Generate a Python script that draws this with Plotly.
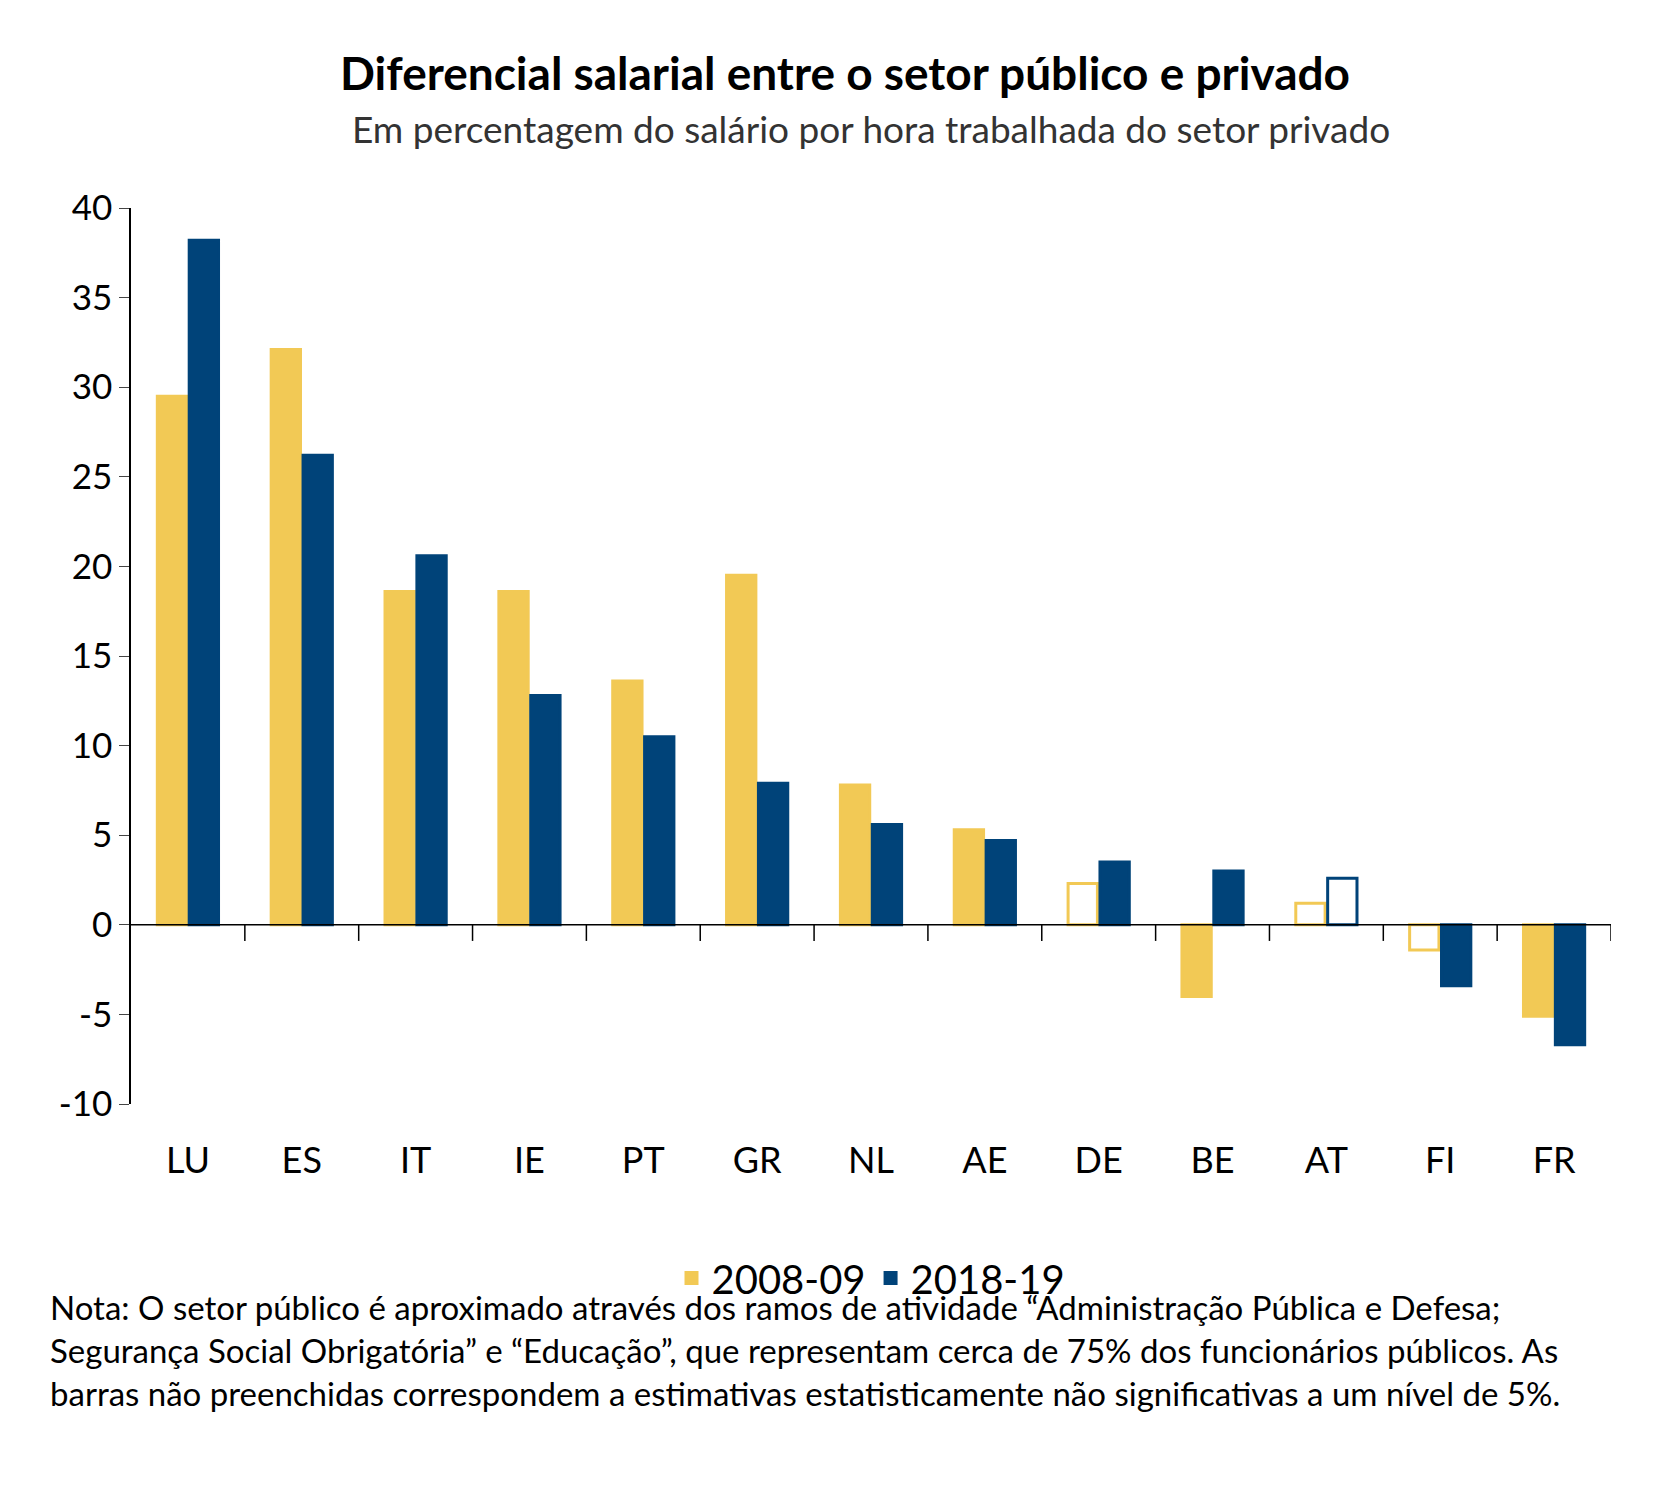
import plotly.graph_objects as go

cats = ["LU","ES","IT","IE","PT","GR","NL","AE","DE","BE","AT","FI","FR"]
v2008 = [29.5,32.1,18.6,18.6,13.6,19.5,7.8,5.3,2.3,-4.0,1.2,-1.4,-5.1]
v2018 = [38.2,26.2,20.6,12.8,10.5,7.9,5.6,4.7,3.5,3.0,2.6,-3.4,-6.7]
hollow2008 = ["DE","AT","FI"]
hollow2018 = ["AT"]
yticks = [-10,-5,0,5,10,15,20,25,30,35,40]
YEL = "#F2C955"; BLU = "#004379"

def fills(col, hollow):
    return ["white" if c in hollow else col for c in cats]

fig = go.Figure()
fig.add_bar(x=cats, y=v2008, name="2008-09",
            marker=dict(color=fills(YEL, hollow2008), line=dict(color=YEL, width=3)))
fig.add_bar(x=cats, y=v2018, name="2018-19",
            marker=dict(color=fills(BLU, hollow2018), line=dict(color=BLU, width=3)))

shapes = [dict(type="line", xref="x", yref="y", x0=-0.5, x1=len(cats)-0.5, y0=0, y1=0,
               line=dict(color="black", width=1.5))]
for i in range(len(cats)):
    shapes.append(dict(type="line", xref="x", yref="y", x0=i+0.5, x1=i+0.5, y0=0, y1=-0.9,
                       line=dict(color="black", width=1.5)))

F = "Lato"
T, B = 200, 392
H = 1488 - T - B
fig.update_layout(
    width=1674, height=1488, plot_bgcolor="white", paper_bgcolor="white",
    font=dict(family=F, color="black"),
    margin=dict(l=123, r=71, t=T, b=B),
    barmode="group", bargap=0.44, bargroupgap=0.08,
    shapes=shapes, legend_itemsizing="constant",
    title=dict(text="<b>Diferencial salarial entre o setor público e privado</b>",
               x=0.5, xanchor="center", y=1-66/1488, yanchor="middle", font=dict(size=46)),
    annotations=[
        dict(text="Em percentagem do salário por hora trabalhada do setor privado", xref="paper", yref="paper",
             x=0.5, y=1+(T-120)/H, xanchor="center", yanchor="middle", showarrow=False,
             font=dict(size=37, color="#333")),
        dict(text="Nota: O setor público é aproximado através dos ramos de atividade “Administração Pública e Defesa;<br>"
                  "Segurança Social Obrigatória” e “Educação”, que representam cerca de 75% dos funcionários públicos. As<br>"
                  "barras não preenchidas correspondem a estimativas estatisticamente não significativas a um nível de 5%.",
             xref="paper", yref="paper", x=-(123-40)/1480, y=-(1342-(1488-B))/H, xanchor="left", yanchor="middle",
             align="left", showarrow=False, font=dict(size=33))
    ],
    xaxis=dict(range=[-0.5, len(cats)-0.5], showline=False, ticks="", tickfont=dict(size=36),
               ticklabelstandoff=32),
    yaxis=dict(range=[-10, 40], tickvals=yticks, ticktext=[str(v) for v in yticks],
               showgrid=False, zeroline=False, showline=True,
               linecolor="black", linewidth=1.5, ticks="outside", ticklen=10, tickfont=dict(size=35)),
    legend=dict(orientation="h", x=0.5, xanchor="center", y=-(1270-(1488-B))/H, yanchor="middle",
                font=dict(size=40)),
)
fig.write_html("out.html")
